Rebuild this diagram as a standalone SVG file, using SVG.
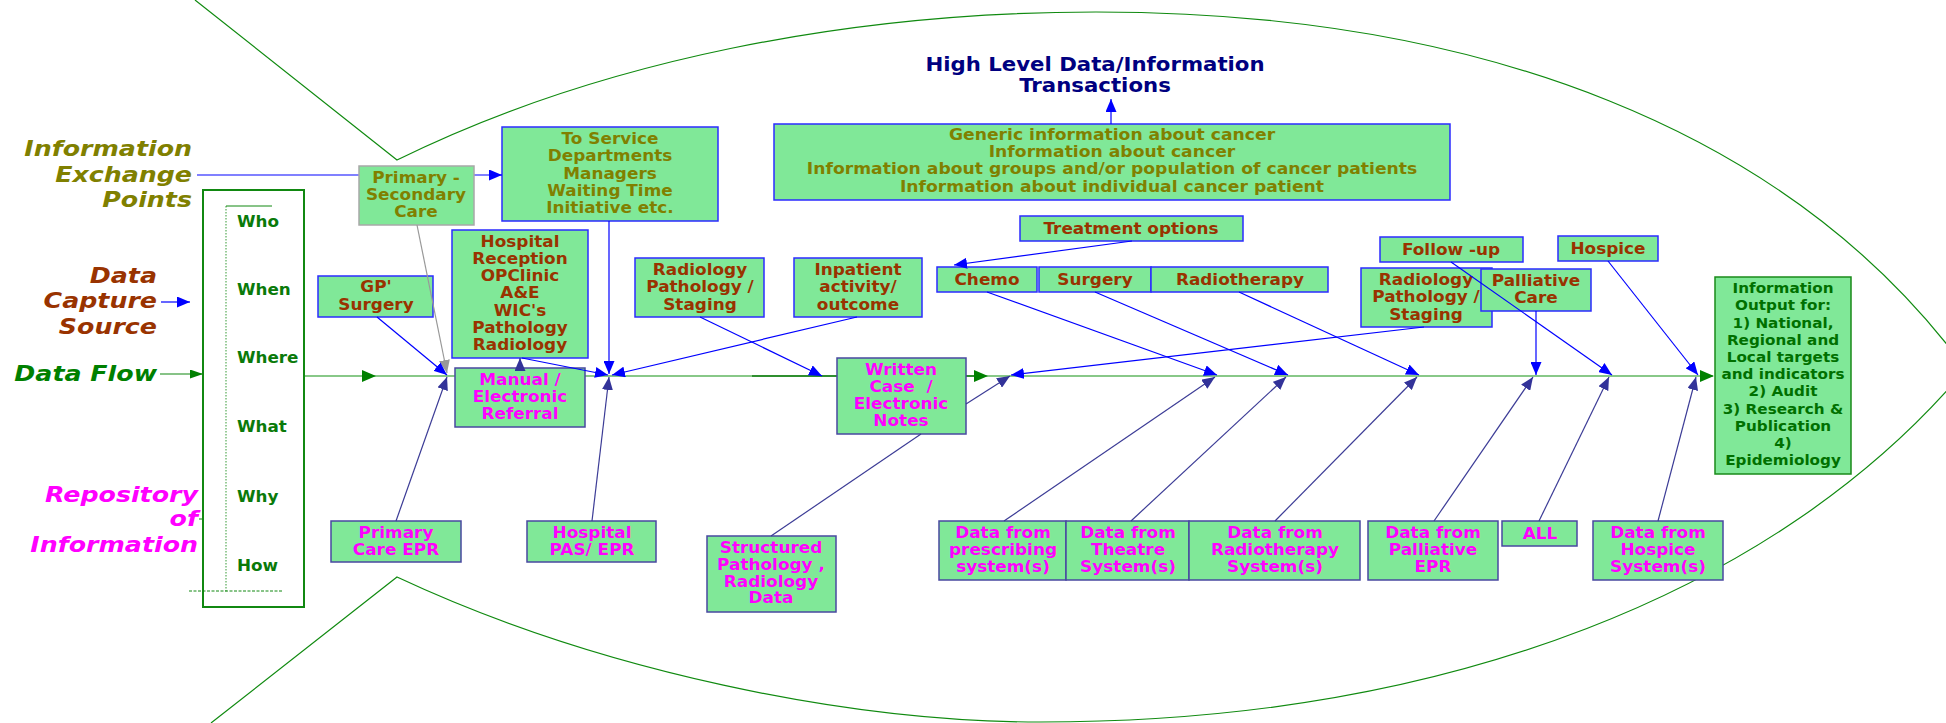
<svg xmlns="http://www.w3.org/2000/svg" width="1946" height="723" viewBox="0 0 1946 723">
  <style>
    .bx { fill: #80e898; stroke: #2b2bff; stroke-width: 1.5; }
    .bxd { fill: #80e898; stroke: #4848a0; stroke-width: 1.5; }
    .bxg { fill: #80e898; stroke: #a8a8a8; stroke-width: 1.5; }
    .bxo { fill: #80e898; stroke: #1a8a1a; stroke-width: 1.5; }
    .t { font-family: "DejaVu Sans", Verdana, sans-serif; font-weight: bold; font-size: 15.5px; text-anchor: middle; }
    .big { font-size: 15.5px; }
    .out { font-size: 14.5px; }
    .ttl { font-size: 19px; }
    .lab { font-family: "DejaVu Sans", Verdana, sans-serif; font-weight: bold; font-style: italic; font-size: 22px; text-anchor: end; }
    .w { font-family: "DejaVu Sans", Verdana, sans-serif; font-weight: bold; font-size: 15px; fill: #0a7a0a; }
    .br { fill: #993300; }
    .mg { fill: #ff00ff; }
    .ol { fill: #808000; }
    .gn { fill: #007000; }
    .nv { fill: #000080; }
    .fish { fill: none; stroke: #108a10; stroke-width: 1.2; }
    .cb { fill: none; stroke: #0000ff; stroke-width: 1.2; marker-end: url(#ab); }
    .cd { fill: none; stroke: #3c3c96; stroke-width: 1.2; marker-end: url(#ad); }
  </style>
  <defs>
    <marker id="ab" viewBox="0 0 13 11" markerWidth="13" markerHeight="11" refX="13" refY="5.5" orient="auto" markerUnits="userSpaceOnUse">
      <path d="M0,0 L13,5.5 L0,11 z" fill="#0000ff"/>
    </marker>
    <marker id="ad" viewBox="0 0 13 11" markerWidth="13" markerHeight="11" refX="13" refY="5.5" orient="auto" markerUnits="userSpaceOnUse">
      <path d="M0,0 L13,5.5 L0,11 z" fill="#333399"/>
    </marker>
    <marker id="ag" viewBox="0 0 13 11" markerWidth="13" markerHeight="11" refX="13" refY="5.5" orient="auto" markerUnits="userSpaceOnUse">
      <path d="M0,0 L13,5.5 L0,11 z" fill="#999999"/>
    </marker>
    <marker id="agr" viewBox="0 0 13 9" markerWidth="13" markerHeight="9" refX="13" refY="4.5" orient="auto" markerUnits="userSpaceOnUse">
      <path d="M0,0 L13,4.5 L0,9 z" fill="#008000"/>
    </marker>
  </defs>

  <rect width="1946" height="723" fill="#ffffff"/>

  <!-- fish outline -->
  <g id="fish">
    <path class="fish" d="M195,0 L397,160 C600,60 850,12 1096,12 C1480,12 1790,130 1965,368"/>
    <path class="fish" d="M211,723 L397,577 C600,672 850,722 1040,722 C1450,722 1780,590 1965,370"/>
  </g>

  <!-- main data-flow spine, drawn beneath the boxes -->
  <g id="spine">
    <path d="M304,376 L1713,376" stroke="#88c888" stroke-width="2" fill="none"/>
    <path d="M752,376 L837,376 M966,376 L975,376" stroke="#2f8f2f" stroke-width="2" fill="none"/>
    <path d="M362,370 L376,376 L362,382 z M974,370 L988,376 L974,382 z M1700,370 L1714,376 L1700,382 z" fill="#008000"/>
    <path d="M160,374 L203,374" stroke="#118811" stroke-width="1.2" fill="none" marker-end="url(#agr)"/>
    <path d="M199,519 L204,519" stroke="#339933" stroke-width="1.2" fill="none"/>
    <path d="M197,175 L359,175 M474,175 L492,175" stroke="#8080ff" stroke-width="2" fill="none"/>
  </g>

  <!-- side labels -->
  <g id="label-exchange">
    <text class="lab ol" transform="translate(192 0) scale(1.15 1)"><tspan x="0" y="156">Information</tspan><tspan x="0" y="182">Exchange</tspan><tspan x="0" y="207">Points</tspan></text>
  </g>
  <g id="label-capture">
    <text class="lab br" transform="translate(157 0) scale(1.15 1)"><tspan x="0" y="283">Data</tspan><tspan x="0" y="308">Capture</tspan><tspan x="0" y="334">Source</tspan></text>
  </g>
  <g id="label-flow">
    <text class="lab" fill="#008000" transform="translate(157 0) scale(1.15 1)"><tspan x="0" y="381">Data Flow</tspan></text>
  </g>
  <g id="label-repository">
    <text class="lab mg" transform="translate(198 0) scale(1.15 1)"><tspan x="0" y="502">Repository</tspan><tspan x="0" y="526">of</tspan><tspan x="0" y="552">Information</tspan></text>
  </g>

  <!-- W questions column -->
  <g id="w-box">
    <rect x="203" y="190" width="101" height="417" fill="none" stroke="#118811" stroke-width="2"/>
    <path d="M226,206 L226,593" stroke="#55aa55" stroke-width="1.2" stroke-dasharray="1.5,1.5" fill="none"/>
    <path d="M226,206 L272,206" stroke="#118811" stroke-width="1" fill="none"/>
    <path d="M189,591 L282,591" stroke="#118811" stroke-width="1" stroke-dasharray="3,1.5" fill="none"/>
    <text class="w" transform="translate(237 0) scale(1.12 1)"><tspan x="0" y="227">Who</tspan><tspan x="0" y="295">When</tspan><tspan x="0" y="363">Where</tspan><tspan x="0" y="432">What</tspan><tspan x="0" y="502">Why</tspan><tspan x="0" y="571">How</tspan></text>
  </g>

  <!-- title -->
  <g id="title">
    <text class="t ttl nv" transform="translate(1095 0) scale(1.12 1)"><tspan x="0" y="71">High Level Data/Information</tspan><tspan x="0" y="92">Transactions</tspan></text>
  </g>

  <!-- nodes -->
  <g id="primary-secondary">
    <rect class="bxg" x="359" y="166" width="115" height="59"/>
    <text class="t ol" transform="translate(416 0) scale(1.09 1)"><tspan x="0" y="183">Primary -</tspan><tspan x="0" y="200">Secondary</tspan><tspan x="0" y="217">Care</tspan></text>
  </g>
  <g id="to-service">
    <rect class="bx" x="502" y="127" width="216" height="94"/>
    <text class="t ol" transform="translate(610 0) scale(1.09 1)"><tspan x="0" y="144">To Service</tspan><tspan x="0" y="161">Departments</tspan><tspan x="0" y="179">Managers</tspan><tspan x="0" y="196">Waiting Time</tspan><tspan x="0" y="213">Initiative etc.</tspan></text>
  </g>
  <g id="hospital-reception">
    <rect class="bx" x="452" y="230" width="136" height="128"/>
    <text class="t br" transform="translate(520 0) scale(1.09 1)"><tspan x="0" y="247">Hospital</tspan><tspan x="0" y="264">Reception</tspan><tspan x="0" y="281">OPClinic</tspan><tspan x="0" y="298">A&amp;E</tspan><tspan x="0" y="316">WIC's</tspan><tspan x="0" y="333">Pathology</tspan><tspan x="0" y="350">Radiology</tspan></text>
  </g>
  <g id="gp-surgery">
    <rect class="bx" x="318" y="276" width="115" height="41"/>
    <text class="t br" transform="translate(376 0) scale(1.09 1)"><tspan x="0" y="292">GP'</tspan><tspan x="0" y="310">Surgery</tspan></text>
  </g>
  <g id="manual-referral">
    <rect class="bxd" x="455" y="368" width="130" height="59"/>
    <text class="t mg" transform="translate(520 0) scale(1.09 1)"><tspan x="0" y="385">Manual /</tspan><tspan x="0" y="402">Electronic</tspan><tspan x="0" y="419">Referral</tspan></text>
  </g>
  <g id="radiology-staging-left">
    <rect class="bx" x="635" y="258" width="129" height="59"/>
    <text class="t br" transform="translate(700 0) scale(1.09 1)"><tspan x="0" y="275">Radiology</tspan><tspan x="0" y="292">Pathology /</tspan><tspan x="0" y="310">Staging</tspan></text>
  </g>
  <g id="inpatient">
    <rect class="bx" x="794" y="258" width="128" height="59"/>
    <text class="t br" transform="translate(858 0) scale(1.09 1)"><tspan x="0" y="275">Inpatient</tspan><tspan x="0" y="292">activity/</tspan><tspan x="0" y="310">outcome</tspan></text>
  </g>
  <g id="written-case">
    <rect class="bxd" x="837" y="358" width="129" height="76"/>
    <text class="t mg" transform="translate(901 0) scale(1.09 1)"><tspan x="0" y="375">Written</tspan><tspan x="0" y="392" style="white-space:pre">Case  /</tspan><tspan x="0" y="409">Electronic</tspan><tspan x="0" y="426">Notes</tspan></text>
  </g>
  <g id="information-levels">
    <rect class="bx" x="774" y="124" width="676" height="76"/>
    <text class="t big ol" transform="translate(1112 0) scale(1.11 1)"><tspan x="0" y="140">Generic information about cancer</tspan><tspan x="0" y="157">Information about cancer</tspan><tspan x="0" y="174">Information about groups and/or population of cancer patients</tspan><tspan x="0" y="192">Information about individual cancer patient</tspan></text>
  </g>
  <g id="treatment-options">
    <rect class="bx" x="1020" y="216" width="223" height="25"/>
    <text class="t br" transform="translate(1131 0) scale(1.09 1)"><tspan x="0" y="234">Treatment options</tspan></text>
  </g>
  <g id="chemo">
    <rect class="bx" x="937" y="267" width="100" height="25"/>
    <text class="t br" transform="translate(987 0) scale(1.09 1)"><tspan x="0" y="285">Chemo</tspan></text>
  </g>
  <g id="surgery">
    <rect class="bx" x="1039" y="267" width="112" height="25"/>
    <text class="t br" transform="translate(1095 0) scale(1.09 1)"><tspan x="0" y="285">Surgery</tspan></text>
  </g>
  <g id="radiotherapy">
    <rect class="bx" x="1151" y="267" width="177" height="25"/>
    <text class="t br" transform="translate(1240 0) scale(1.09 1)"><tspan x="0" y="285">Radiotherapy</tspan></text>
  </g>
  <g id="follow-up">
    <rect class="bx" x="1380" y="237" width="143" height="25"/>
    <text class="t br" transform="translate(1451 0) scale(1.09 1)"><tspan x="0" y="255">Follow -up</tspan></text>
  </g>
  <g id="hospice">
    <rect class="bx" x="1558" y="236" width="100" height="25"/>
    <text class="t br" transform="translate(1608 0) scale(1.09 1)"><tspan x="0" y="254">Hospice</tspan></text>
  </g>
  <g id="radiology-staging-right">
    <rect class="bx" x="1361" y="268" width="131" height="59"/>
    <text class="t br" transform="translate(1426 0) scale(1.09 1)"><tspan x="0" y="285">Radiology</tspan><tspan x="0" y="302">Pathology /</tspan><tspan x="0" y="320">Staging</tspan></text>
  </g>
  <g id="palliative-care">
    <rect class="bx" x="1481" y="269" width="110" height="42"/>
    <text class="t br" transform="translate(1536 0) scale(1.09 1)"><tspan x="0" y="286">Palliative</tspan><tspan x="0" y="303">Care</tspan></text>
  </g>
  <g id="information-output">
    <rect class="bxo" x="1715" y="277" width="136" height="197"/>
    <text class="t out gn" transform="translate(1783 0) scale(1.05 1)"><tspan x="0" y="293">Information</tspan><tspan x="0" y="310">Output for:</tspan><tspan x="0" y="328">1) National,</tspan><tspan x="0" y="345">Regional and</tspan><tspan x="0" y="362">Local targets</tspan><tspan x="0" y="379">and indicators</tspan><tspan x="0" y="396">2) Audit</tspan><tspan x="0" y="414">3) Research &amp;</tspan><tspan x="0" y="431">Publication</tspan><tspan x="0" y="448">4)</tspan><tspan x="0" y="465">Epidemiology</tspan></text>
  </g>
  <g id="primary-care-epr">
    <rect class="bxd" x="331" y="521" width="130" height="41"/>
    <text class="t mg" transform="translate(396 0) scale(1.09 1)"><tspan x="0" y="538">Primary</tspan><tspan x="0" y="555">Care EPR</tspan></text>
  </g>
  <g id="hospital-pas">
    <rect class="bxd" x="527" y="521" width="129" height="41"/>
    <text class="t mg" transform="translate(592 0) scale(1.09 1)"><tspan x="0" y="538">Hospital</tspan><tspan x="0" y="555">PAS/ EPR</tspan></text>
  </g>
  <g id="structured-data">
    <rect class="bxd" x="707" y="536" width="129" height="76"/>
    <text class="t mg" transform="translate(771 0) scale(1.09 1)"><tspan x="0" y="553">Structured</tspan><tspan x="0" y="570">Pathology ,</tspan><tspan x="0" y="587">Radiology</tspan><tspan x="0" y="603">Data</tspan></text>
  </g>
  <g id="data-prescribing">
    <rect class="bxd" x="939" y="521" width="127" height="59"/>
    <text class="t mg" transform="translate(1003 0) scale(1.09 1)"><tspan x="0" y="538">Data from</tspan><tspan x="0" y="555">prescribing</tspan><tspan x="0" y="572">system(s)</tspan></text>
  </g>
  <g id="data-theatre">
    <rect class="bxd" x="1066" y="521" width="123" height="59"/>
    <text class="t mg" transform="translate(1128 0) scale(1.09 1)"><tspan x="0" y="538">Data from</tspan><tspan x="0" y="555">Theatre</tspan><tspan x="0" y="572">System(s)</tspan></text>
  </g>
  <g id="data-radiotherapy">
    <rect class="bxd" x="1189" y="521" width="171" height="59"/>
    <text class="t mg" transform="translate(1275 0) scale(1.09 1)"><tspan x="0" y="538">Data from</tspan><tspan x="0" y="555">Radiotherapy</tspan><tspan x="0" y="572">System(s)</tspan></text>
  </g>
  <g id="data-palliative">
    <rect class="bxd" x="1368" y="521" width="130" height="59"/>
    <text class="t mg" transform="translate(1433 0) scale(1.09 1)"><tspan x="0" y="538">Data from</tspan><tspan x="0" y="555">Palliative</tspan><tspan x="0" y="572">EPR</tspan></text>
  </g>
  <g id="all">
    <rect class="bxd" x="1502" y="521" width="75" height="25"/>
    <text class="t mg" transform="translate(1540 0) scale(1.09 1)"><tspan x="0" y="539">ALL</tspan></text>
  </g>
  <g id="data-hospice">
    <rect class="bxd" x="1593" y="521" width="130" height="59"/>
    <text class="t mg" transform="translate(1658 0) scale(1.09 1)"><tspan x="0" y="538">Data from</tspan><tspan x="0" y="555">Hospice</tspan><tspan x="0" y="572">System(s)</tspan></text>
  </g>

  <!-- connectors -->
  <g id="connectors">
    <path class="cb" d="M490,175 L502,175"/>
    <path class="cb" d="M161,302 L190,302"/>
    <path d="M417,225 L447,373" stroke="#999999" stroke-width="1.2" fill="none" marker-end="url(#ag)"/>

    <!-- top feeds -->
    <path class="cb" d="M377,317 L447,375"/>
    <path class="cb" d="M522,358 L608,375"/>
    <path class="cb" d="M609,221 L609,374"/>
    <path class="cb" d="M857,317 L612,375"/>
    <path class="cb" d="M700,317 L822,376"/>
    <path class="cb" d="M1424,327 L1011,375"/>
    <path class="cb" d="M1132,241 L954,265"/>
    <path class="cb" d="M987,292 L1217,375"/>
    <path class="cb" d="M1095,292 L1288,375"/>
    <path class="cb" d="M1239,292 L1419,375"/>
    <path class="cb" d="M1536,311 L1536,375"/>
    <path class="cb" d="M1451,262 L1612,375"/>
    <path class="cb" d="M1608,261 L1698,375"/>
    <path class="cb" d="M1111,124 L1111,99"/>

    <!-- bottom feeds -->
    <path class="cd" d="M396,521 L447,377"/>
    <path class="cd" d="M592,521 L609,377"/>
    <path class="cd" d="M520,368 L520,358"/>
    <path class="cd" d="M966,404 L1010,376"/>
    <path d="M771,536 L921,434" stroke="#3c3c96" stroke-width="1.2" fill="none"/>
    <path class="cd" d="M1004,521 L1215,377"/>
    <path class="cd" d="M1131,521 L1286,377"/>
    <path class="cd" d="M1275,521 L1417,377"/>
    <path class="cd" d="M1434,521 L1533,377"/>
    <path class="cd" d="M1539,521 L1609,377"/>
    <path class="cd" d="M1658,521 L1696,377"/>
  </g>
</svg>
